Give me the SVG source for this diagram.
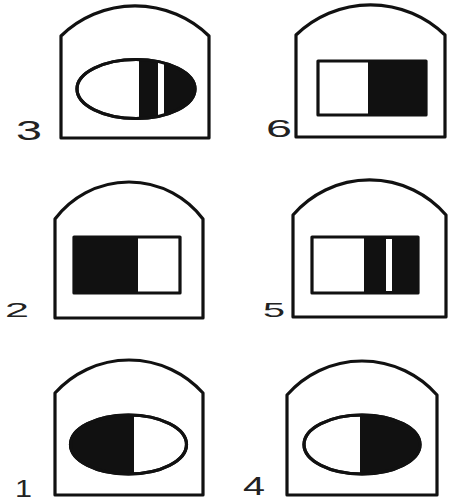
<svg xmlns="http://www.w3.org/2000/svg" width="451" height="503" viewBox="0 0 451 503">
<style>
.o{fill:#fff;stroke:#111;stroke-width:3.2;stroke-linejoin:round}
.b{fill:#111}
.w{fill:#fff}
.l{font-family:"Liberation Sans",Arial,sans-serif;fill:#222}
</style>
<defs>
<clipPath id="c3"><ellipse cx="136" cy="89" rx="59" ry="29.5"/></clipPath>
<clipPath id="c1"><ellipse cx="128.5" cy="444.5" rx="58" ry="29.5"/></clipPath>
<clipPath id="c4"><ellipse cx="362" cy="444.5" rx="58" ry="29.5"/></clipPath>
</defs>
<rect width="451" height="503" fill="#fff"/>
<g id="panel3">
<path class="o" d="M61,138 L61,36 A106,106 0 0 1 209,36 L209,138 Z"/>
<ellipse class="o" cx="136" cy="89" rx="59" ry="29.5"/>
<g clip-path="url(#c3)"><rect class="b" x="139" y="55" width="60" height="70"/><rect class="w" x="158" y="55" width="6" height="70"/></g>
<ellipse cx="136" cy="89" rx="59" ry="29.5" fill="none" stroke="#111" stroke-width="3.2"/>
<text class="l" x="16" y="140" font-size="27" textLength="26" lengthAdjust="spacingAndGlyphs">3</text>
</g>
<g id="panel6">
<path class="o" d="M296,137 L296,35 A107,107 0 0 1 445,35 L445,137 Z"/>
<rect class="o" x="318" y="61" width="108" height="54"/>
<rect class="b" x="368" y="61" width="58" height="54"/>
<text class="l" x="266" y="137" font-size="24" textLength="26" lengthAdjust="spacingAndGlyphs">6</text>
</g>
<g id="panel2">
<path class="o" d="M55,318 L55,219 A92.5,92.5 0 0 1 203,219 L203,318 Z"/>
<rect class="o" x="74" y="237" width="106" height="56"/>
<rect class="b" x="74" y="237" width="64" height="56"/>
<text class="l" x="5" y="317" font-size="21" textLength="24" lengthAdjust="spacingAndGlyphs">2</text>
</g>
<g id="panel5">
<path class="o" d="M293,317 L293,215 A101,101 0 0 1 446,215 L446,317 Z"/>
<rect class="o" x="312" y="237" width="106" height="56"/>
<rect class="b" x="364" y="237" width="54" height="56"/>
<rect class="w" x="386" y="239" width="6" height="52"/>
<text class="l" x="263" y="317" font-size="21" textLength="22" lengthAdjust="spacingAndGlyphs">5</text>
</g>
<g id="panel1">
<path class="o" d="M55,495 L55,393 A99.5,99.5 0 0 1 203,393 L203,495 Z"/>
<ellipse class="o" cx="128.5" cy="444.5" rx="58" ry="29.5"/>
<g clip-path="url(#c1)"><rect class="b" x="68" y="410" width="65" height="70"/></g>
<line x1="133" y1="415" x2="133" y2="474" stroke="#111" stroke-width="2"/>
<ellipse cx="128.5" cy="444.5" rx="58" ry="29.5" fill="none" stroke="#111" stroke-width="3.2"/>
<text class="l" x="15" y="497" font-size="24" textLength="17" lengthAdjust="spacingAndGlyphs">1</text>
</g>
<g id="panel4">
<path class="o" d="M287,495 L287,395 A99.7,99.7 0 0 1 437,395 L437,495 Z"/>
<ellipse class="o" cx="362" cy="444.5" rx="58" ry="29.5"/>
<g clip-path="url(#c4)"><rect class="b" x="360" y="410" width="65" height="70"/></g>
<ellipse cx="362" cy="444.5" rx="58" ry="29.5" fill="none" stroke="#111" stroke-width="3.2"/>
<text class="l" x="243" y="495" font-size="25" textLength="22" lengthAdjust="spacingAndGlyphs">4</text>
</g>
</svg>
